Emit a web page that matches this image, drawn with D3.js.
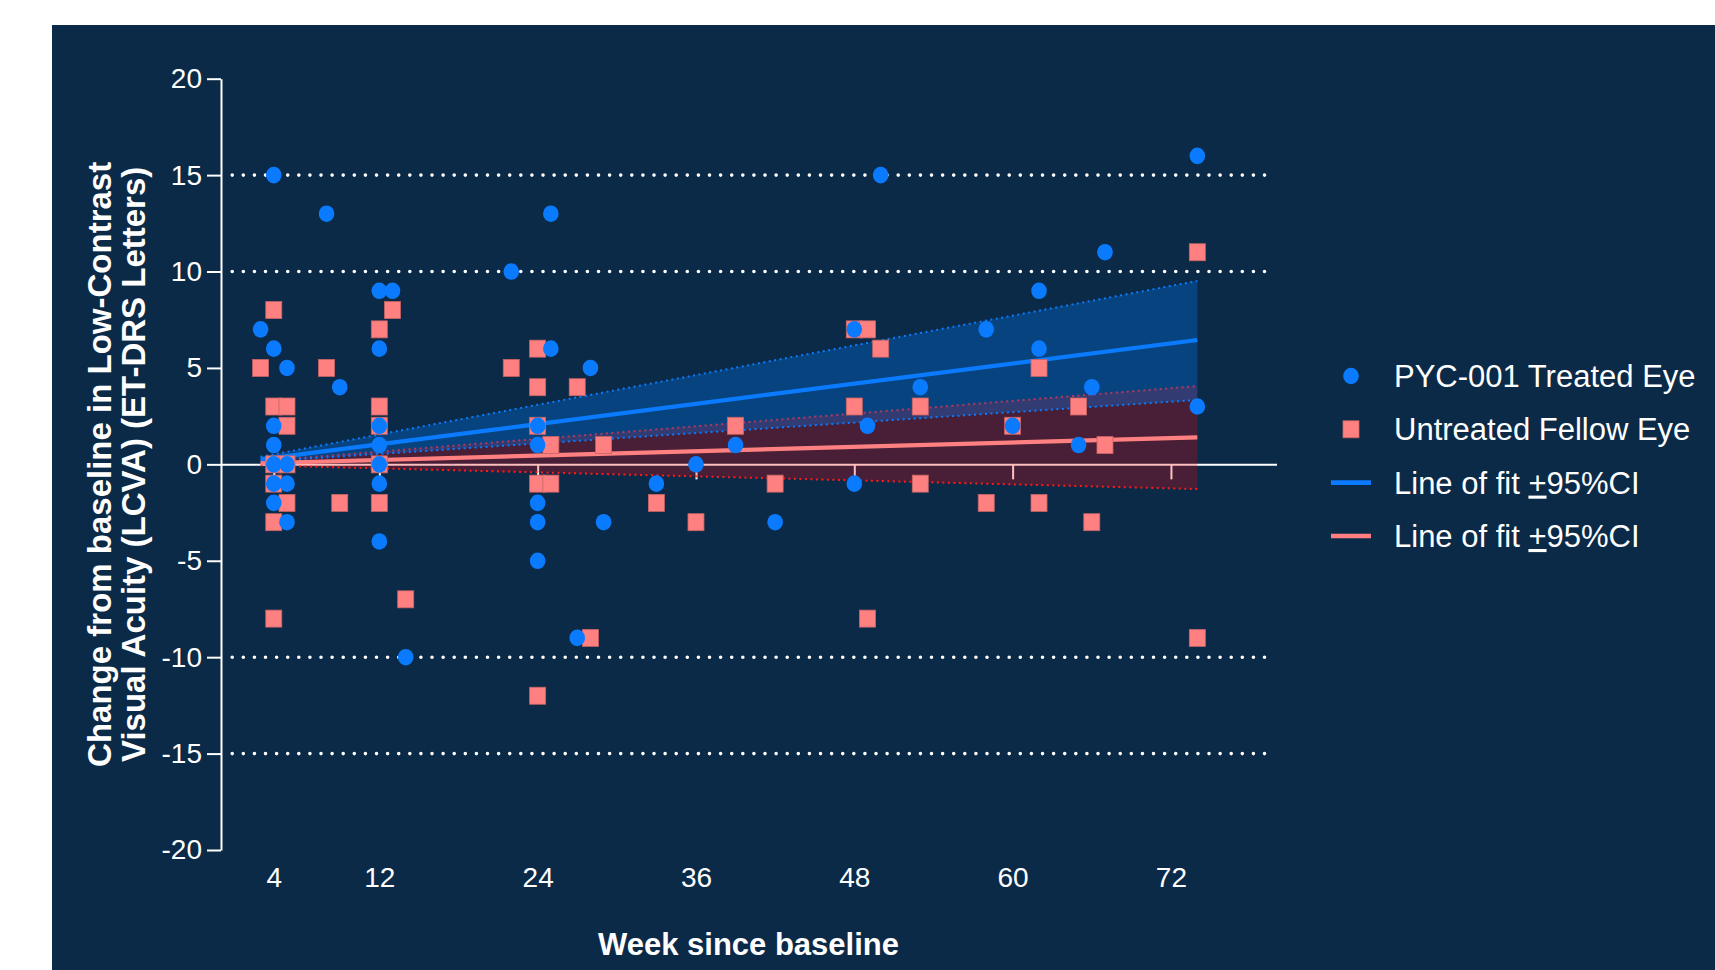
<!DOCTYPE html>
<html>
<head>
<meta charset="utf-8">
<script src="https://cdn.jsdelivr.net/npm/d3@7"></script>
<style>
  html, body { margin: 0; padding: 0; background: #ffffff; }
  svg { display: block; }
  text { font-family: "Liberation Sans", Arial, sans-serif; }
</style>
</head>
<body>
<svg id="chart" width="1715" height="970"></svg>
<script>
// ---------------- DATA ----------------
const xTickValues = [4, 12, 24, 36, 48, 60, 72];
const yTickValues = [-20, -15, -10, -5, 0, 5, 10, 15, 20];
const gridValues = [15, 10, -10, -15];

// PYC-001 Treated Eye (circles)
const treatedWeeks = [3, 4, 4, 4, 4, 4, 4, 4, 5, 5, 5, 5, 8, 9, 12, 12, 12, 12, 12, 12, 12, 13, 14, 22,
  24, 24, 24, 24, 24, 25, 25, 27, 28, 29, 33, 36, 39, 42, 48, 48, 49, 50, 53, 58, 60, 62, 62, 65, 66, 67, 74, 74];
const treatedValues = [7, 15, 6, 2, 1, 0, -1, -2, 5, 0, -1, -3, 13, 4, 9, 6, 2, 1, 0, -1, -4, 9, -10, 10,
  2, 1, -2, -3, -5, 13, 6, -9, 5, -3, -1, 0, 1, -3, 7, -1, 2, 15, 4, 7, 2, 9, 6, 1, 4, 11, 16, 3];

// Untreated Fellow Eye (squares)
const fellowWeeks = [3, 4, 4, 4, 4, 4, 4, 5, 5, 5, 5, 8, 9, 12, 12, 12, 12, 12, 13, 14, 22,
  24, 24, 24, 24, 24, 25, 25, 27, 28, 29, 33, 36, 39, 42, 48, 48, 49, 49, 50, 53, 53, 58, 60, 62, 62, 65, 66, 67, 74, 74];
const fellowValues = [5, 8, 3, 0, -1, -3, -8, 3, 2, 0, -2, 5, -2, 7, 3, 2, 0, -2, 8, -7, 5,
  6, 4, 2, -1, -12, 1, -1, 4, -9, 1, -2, -3, 2, -1, 7, 3, 7, -8, 6, 3, -1, -2, 2, 5, -2, 3, -3, 1, 11, -9];

// Lines of fit with 95% CI (values at the first and last week of the fit)
const fitWeeks = [3, 74];
const treatedFit = [0.26, 6.45];
const treatedLower = [0.135, 3.34];
const treatedUpper = [0.39, 9.51];
const fellowFit = [0.057, 1.40];
const fellowLower = [-0.052, -1.28];
const fellowUpper = [0.165, 4.06];

const legendLabels = ["PYC-001 Treated Eye", "Untreated Fellow Eye", "Line of fit ", "Line of fit "];

// ---------------- STYLE ----------------
const BG = "#0B2A48";
const BLUE = "#0A7BFF";
const SALMON = "#FF8080";

const svg = d3.select("#chart");
svg.append("rect").attr("x", 52).attr("y", 25).attr("width", 1715 - 52).attr("height", 970 - 25).attr("fill", BG);

const x = d3.scaleLinear().domain([0, 80]).range([221, 1276.5]);
const y = d3.scaleLinear().domain([-20, 20]).range([850, 78.7]);

// gridlines (dotted)
svg.append("g").selectAll("line").data(gridValues).join("line")
  .attr("x1", x(0.85)).attr("x2", x(79.3))
  .attr("y1", d => y(d)).attr("y2", d => y(d))
  .attr("stroke", "#ffffff").attr("stroke-width", 3.6)
  .attr("stroke-linecap", "round").attr("stroke-dasharray", "0 11.1");

// Y axis
const yAxis = svg.append("g").attr("transform", `translate(${x(0)},0)`)
  .call(d3.axisLeft(y).tickValues(yTickValues).tickSize(14).tickSizeOuter(0).tickPadding(5).tickFormat(d => String(d)));
yAxis.select(".domain").attr("stroke", "#fff").attr("stroke-width", 2);
yAxis.selectAll(".tick line").attr("stroke", "#fff").attr("stroke-width", 2);
yAxis.selectAll(".tick text").attr("fill", "#fff").attr("font-size", 28)
  .attr("font-family", "Liberation Sans, Arial, sans-serif");

// X axis at y = 0
const xAxis = svg.append("g").attr("transform", `translate(0,${y(0)})`)
  .call(d3.axisBottom(x).tickValues(xTickValues).tickSize(15).tickSizeOuter(0).tickPadding(388).tickFormat(d => String(d)));
xAxis.select(".domain").attr("stroke", "#fff").attr("stroke-width", 2);
xAxis.selectAll(".tick line").attr("stroke", "#fff").attr("stroke-width", 2);
xAxis.selectAll(".tick text").attr("fill", "#fff").attr("font-size", 28)
  .attr("font-family", "Liberation Sans, Arial, sans-serif");

// Confidence bands
function bandData(lo, hi) { return fitWeeks.map((w, i) => ({ w, lo: lo[i], hi: hi[i] })); }
const area = d3.area().x(d => x(d.w)).y0(d => y(d.lo)).y1(d => y(d.hi));
const line = (vals) => d3.line().x(d => x(d.w)).y(d => y(d.v))(fitWeeks.map((w, i) => ({ w, v: vals[i] })));

svg.append("path").attr("d", area(bandData(fellowLower, fellowUpper))).attr("fill", "rgba(255,0,0,0.25)");
[fellowLower, fellowUpper].forEach(v => svg.append("path").attr("d", line(v)).attr("fill", "none")
  .attr("stroke", "#FF1A1A").attr("stroke-width", 2).attr("stroke-dasharray", "2 3.5"));
svg.append("path").attr("d", area(bandData(treatedLower, treatedUpper))).attr("fill", "rgba(0,128,255,0.3)");
[treatedLower, treatedUpper].forEach(v => svg.append("path").attr("d", line(v)).attr("fill", "none")
  .attr("stroke", BLUE).attr("stroke-width", 2).attr("stroke-dasharray", "2 3.5"));

svg.append("path").attr("d", line(treatedFit)).attr("fill", "none").attr("stroke", BLUE).attr("stroke-width", 4.2);
svg.append("path").attr("d", line(fellowFit)).attr("fill", "none").attr("stroke", SALMON).attr("stroke-width", 4.2);

// Points
const fellowPts = fellowWeeks.map((w, i) => ({ w, v: fellowValues[i] }));
const treatedPts = treatedWeeks.map((w, i) => ({ w, v: treatedValues[i] }));
svg.append("g").selectAll("rect").data(fellowPts).join("rect")
  .attr("x", d => x(d.w) - 8).attr("y", d => y(d.v) - 8.5)
  .attr("width", 16).attr("height", 17)
  .attr("fill", SALMON).attr("stroke", "#C86464").attr("stroke-width", 0.8);
svg.append("g").selectAll("ellipse").data(treatedPts).join("ellipse")
  .attr("cx", d => x(d.w)).attr("cy", d => y(d.v))
  .attr("rx", 7.8).attr("ry", 8.3).attr("fill", BLUE);

// Axis titles
svg.append("text").attr("x", 748.5).attr("y", 955).attr("text-anchor", "middle")
  .attr("fill", "#fff").attr("font-size", 31).attr("font-weight", "bold").text("Week since baseline");
const yt = svg.append("g").attr("transform", `translate(0,${y(0)}) rotate(-90)`);
yt.append("text").attr("x", 0).attr("y", 111).attr("text-anchor", "middle")
  .attr("fill", "#fff").attr("font-size", 33).attr("font-weight", "bold").text("Change from baseline in Low-Contrast");
yt.append("text").attr("x", 0).attr("y", 145).attr("text-anchor", "middle")
  .attr("fill", "#fff").attr("font-size", 33).attr("font-weight", "bold").text("Visual Acuity (LCVA) (ET-DRS Letters)");

// Legend
const lg = svg.append("g");
const rowY = [376, 429.3, 482.6, 536];
lg.append("ellipse").attr("cx", 1351).attr("cy", rowY[0]).attr("rx", 7.8).attr("ry", 8.3).attr("fill", BLUE);
lg.append("rect").attr("x", 1351 - 8).attr("y", rowY[1] - 8.5).attr("width", 16).attr("height", 17)
  .attr("fill", SALMON).attr("stroke", "#C86464").attr("stroke-width", 0.8);
lg.append("line").attr("x1", 1331).attr("x2", 1371).attr("y1", rowY[2]).attr("y2", rowY[2]).attr("stroke", BLUE).attr("stroke-width", 4.6);
lg.append("line").attr("x1", 1331).attr("x2", 1371).attr("y1", rowY[3]).attr("y2", rowY[3]).attr("stroke", SALMON).attr("stroke-width", 4.6);
legendLabels.forEach((t, i) => {
  const tx = lg.append("text").attr("x", 1394).attr("y", rowY[i] + 11).attr("fill", "#fff").attr("font-size", 31);
  tx.append("tspan").text(t);
  if (i >= 2) {
    tx.append("tspan").attr("text-decoration", "underline").text("+");
    tx.append("tspan").text("95%CI");
  }
});
</script>
</body>
</html>
